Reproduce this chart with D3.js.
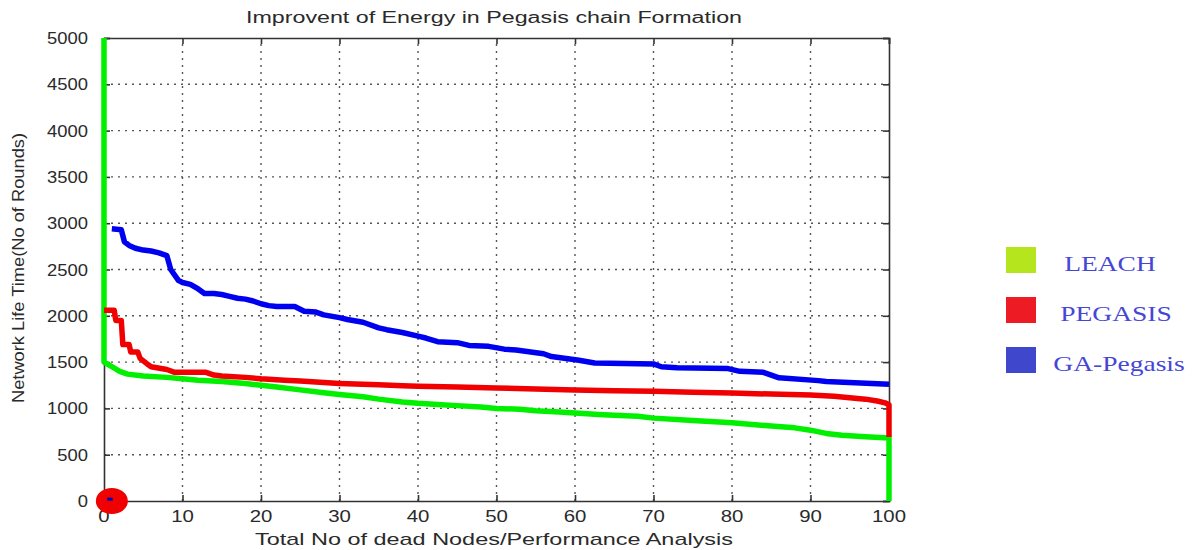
<!DOCTYPE html>
<html>
<head>
<meta charset="utf-8">
<script src="https://cdn.jsdelivr.net/npm/d3@7"></script>
<style>
  body { margin: 0; background: #fff; }
  svg { display: block; }
  text { font-family: "Liberation Sans", Arial, sans-serif; fill: #2a2a2a; }
</style>
</head>
<body>
<svg id="chart"></svg>
<script>
// data
const xTicks = [0, 10, 20, 30, 40, 50, 60, 70, 80, 90, 100];
const yTicks = [0, 500, 1000, 1500, 2000, 2500, 3000, 3500, 4000, 4500, 5000];

const leachX = [0, 0, 1, 2, 3, 5, 8, 10, 12, 15, 18, 20, 22, 25, 28, 30, 33, 35, 38, 40, 43, 45, 48, 50, 53, 55, 58, 60, 63, 65, 68, 70, 75, 80, 85, 88, 90, 92, 94, 97, 100, 100];
const leachY = [5000, 1500, 1450, 1400, 1370, 1350, 1335, 1320, 1305, 1290, 1270, 1250, 1230, 1200, 1170, 1150, 1125, 1100, 1070, 1055, 1040, 1030, 1015, 1000, 990, 975, 960, 950, 935, 925, 915, 895, 870, 845, 810, 790, 765, 730, 710, 695, 680, 0];

const pegX = [0, 1.3, 1.5, 2.2, 2.4, 3.2, 3.4, 4.3, 4.6, 5.5, 6, 8, 9, 13, 14, 15, 18, 20, 23, 25, 28, 30, 33, 35, 38, 40, 45, 50, 55, 60, 65, 70, 75, 80, 85, 90, 93, 95, 97, 98.5, 99.5, 100, 100];
const pegY = [2060, 2060, 1950, 1950, 1690, 1690, 1610, 1610, 1540, 1480, 1450, 1420, 1390, 1390, 1360, 1350, 1335, 1320, 1305, 1295, 1280, 1270, 1260, 1255, 1245, 1240, 1230, 1220, 1210, 1200, 1190, 1185, 1175, 1165, 1155, 1145, 1130, 1115, 1100, 1080, 1060, 1040, 690];

const gaX = [1, 2.2, 2.6, 3.2, 4, 5, 6, 7, 8, 8.5, 9.5, 10, 11, 12, 12.8, 14, 15, 16, 17, 18, 19, 20, 21, 22, 24.3, 25.5, 27, 28, 30, 31, 33, 35, 36, 38, 40, 41, 42.5, 45, 46.5, 49, 51, 52.5, 56, 57, 60.5, 62.5, 70, 71, 73, 79.5, 81, 84, 86, 91, 92, 100];
const gaY = [2940, 2930, 2800, 2760, 2730, 2710, 2700, 2680, 2650, 2500, 2380, 2360, 2340, 2290, 2240, 2240, 2230, 2210, 2190, 2180, 2160, 2130, 2110, 2100, 2100, 2050, 2040, 2010, 1980, 1960, 1930, 1870, 1850, 1820, 1780, 1760, 1720, 1710, 1680, 1670, 1640, 1630, 1590, 1560, 1520, 1490, 1480, 1450, 1440, 1430, 1400, 1390, 1330, 1300, 1290, 1260];

const originMark = [{ x: 1, y: 0 }];
const gaStartX = [0.4, 1.1];
const gaStartY = [20, 20];

const legendLabels = ['LEACH', 'PEGASIS', 'GA-Pegasis'];
const legendColors = ['#b5e61d', '#ed1c24', '#3f48cc'];

const W = 1194, H = 550;
const svg = d3.select('#chart').attr('width', W).attr('height', H);

const x = d3.scaleLinear().domain([0, 100]).range([104, 889]);
const y = d3.scaleLinear().domain([0, 5000]).range([501, 38]);

// stretched text helper (the picture is widened horizontally)
function stext(g, str, px, py, size, anchor, sx, opts = {}) {
  const t = g.append('text')
    .attr('transform', `translate(${px},${py}) scale(${sx},1)`)
    .attr('text-anchor', anchor)
    .style('font-size', size + 'px')
    .text(str);
  if (opts.family) t.style('font-family', opts.family);
  if (opts.fill) t.style('fill', opts.fill);
  if (opts.length) t.attr('textLength', opts.length).attr('lengthAdjust', 'spacingAndGlyphs');
  return t;
}

// grid
const grid = svg.append('g');
grid.selectAll('line.gx').data(xTicks.slice(1, -1)).enter().append('line')
  .attr('x1', d => x(d)).attr('x2', d => x(d))
  .attr('y1', y(0)).attr('y2', y(5000))
  .attr('stroke', '#555').attr('stroke-width', 1.4).attr('stroke-dasharray', '2,5');
grid.selectAll('line.gy').data(yTicks.slice(1, -1)).enter().append('line')
  .attr('y1', d => y(d)).attr('y2', d => y(d))
  .attr('x1', x(0)).attr('x2', x(100))
  .attr('stroke', '#555').attr('stroke-width', 1.4).attr('stroke-dasharray', '2,5');

// axes (ticks inside, matlab style)
const axes = svg.append('g');
axes.append('g').attr('transform', `translate(0,${y(0)})`)
  .call(d3.axisBottom(x).tickValues(xTicks).tickSize(-6).tickFormat(''));
axes.append('g').attr('transform', `translate(0,${y(5000)})`)
  .call(d3.axisTop(x).tickValues(xTicks).tickSize(-6).tickFormat(''));
axes.append('g').attr('transform', `translate(${x(0)},0)`)
  .call(d3.axisLeft(y).tickValues(yTicks).tickSize(-6).tickFormat(''));
axes.append('g').attr('transform', `translate(${x(100)},0)`)
  .call(d3.axisRight(y).tickValues(yTicks).tickSize(-6).tickFormat(''));
axes.selectAll('.domain').attr('stroke', '#333').attr('stroke-width', 1.6);
axes.selectAll('.tick line').attr('stroke', '#333').attr('stroke-width', 1.6);

// tick labels
const labels = svg.append('g');
xTicks.forEach(d => stext(labels, String(d), x(d), 522, 17, 'middle', 1.2));
yTicks.forEach(d => stext(labels, String(d), 88, y(d) + 6, 16, 'end', 1.15));

// series
const line = d3.line().x(d => x(d[0])).y(d => y(d[1]));
svg.append('clipPath').attr('id', 'plot')
  .append('rect').attr('x', x(0) - 4).attr('y', y(5000)).attr('width', x(100) - x(0) + 8).attr('height', y(0) - y(5000));

const series = [
  { xs: leachX, ys: leachY, color: '#00f000' },
  { xs: pegX, ys: pegY, color: '#f00000' },
  { xs: gaX, ys: gaY, color: '#0000f0' }
];
const lines = svg.append('g').attr('clip-path', 'url(#plot)');
series.forEach(s => {
  lines.append('path')
    .datum(s.xs.map((v, i) => [v, s.ys[i]]))
    .attr('d', line)
    .attr('fill', 'none')
    .attr('stroke', s.color)
    .attr('stroke-width', 5.5)
    .attr('stroke-linejoin', 'round');
});

// red marker at the origin
svg.append('g').selectAll('ellipse').data(originMark).enter().append('ellipse')
  .attr('cx', d => x(d.x)).attr('cy', d => y(d.y))
  .attr('rx', 16).attr('ry', 13)
  .attr('fill', '#f00000');
svg.append('path')
  .datum(gaStartX.map((v, i) => [v, gaStartY[i]]))
  .attr('d', line).attr('stroke', '#0000c0').attr('stroke-width', 3).attr('fill', 'none');

// title and axis labels
stext(svg, 'Improvent of Energy in Pegasis chain Formation', 494, 23, 16, 'middle', 1, { length: 496 });
stext(svg, 'Total No of dead Nodes/Performance Analysis', 494, 545, 17, 'middle', 1, { length: 478 });
svg.append('text')
  .attr('transform', 'translate(24,268) rotate(-90)')
  .attr('text-anchor', 'middle')
  .style('font-size', '16px')
  .attr('textLength', 270).attr('lengthAdjust', 'spacingAndGlyphs')
  .text('Network Life Time(No of Rounds)');

// legend
const legend = svg.append('g');
legendLabels.forEach((lab, i) => {
  legend.append('rect')
    .attr('x', 1006).attr('y', 247 + i * 50)
    .attr('width', 30).attr('height', 26)
    .attr('fill', legendColors[i]);
});
const legendTextX = [1110, 1116, 1119];
legendLabels.forEach((lab, i) => {
  stext(legend, lab, legendTextX[i], 271 + i * 50, 22, 'middle', 1.25,
    { family: '"Liberation Serif", "Times New Roman", serif', fill: '#4646d6' });
});
</script>
</body>
</html>
